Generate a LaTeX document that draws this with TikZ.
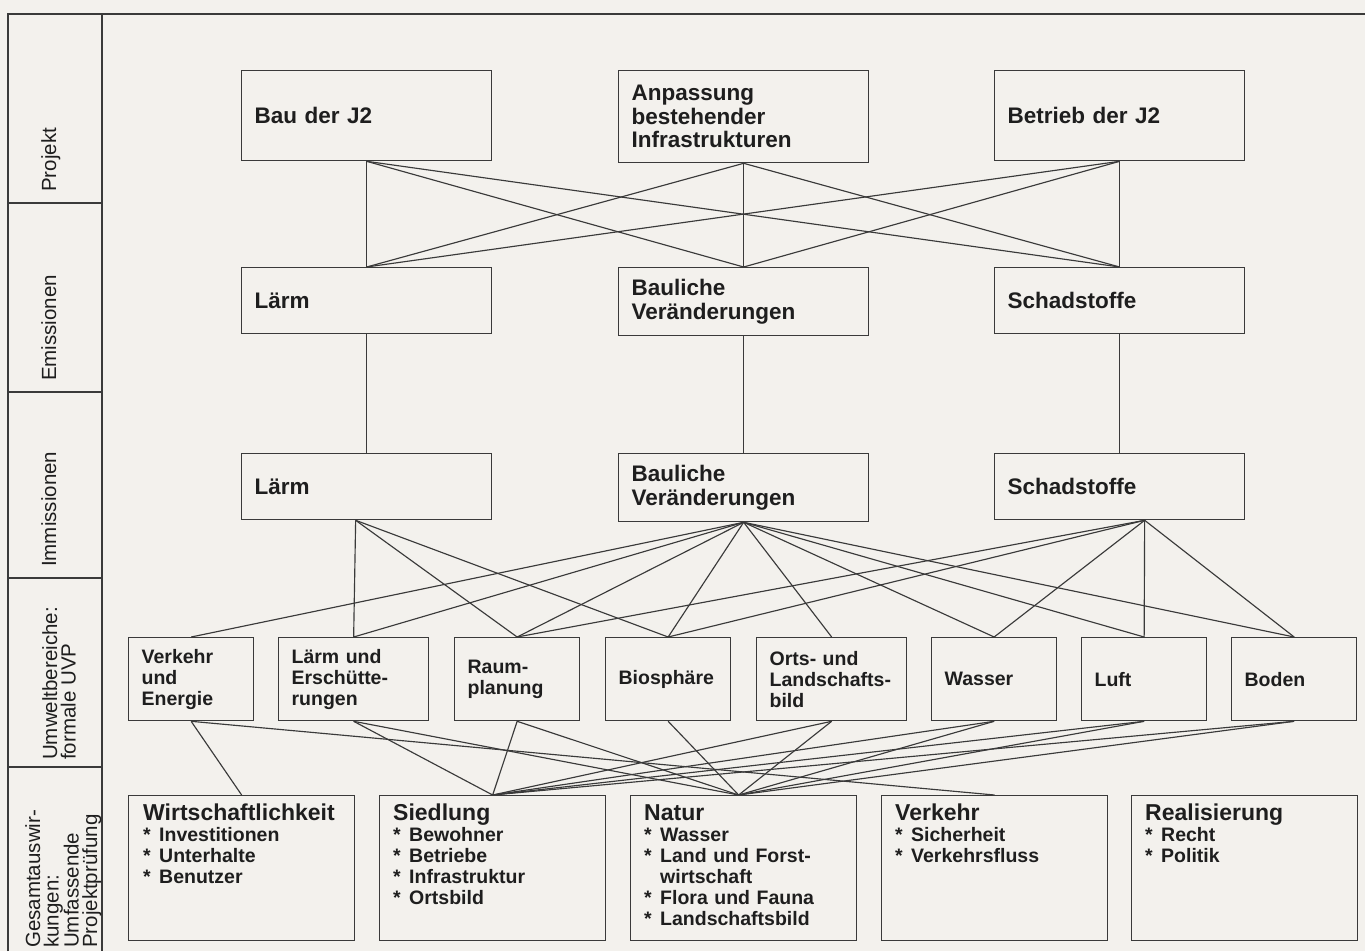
\documentclass[tikz,border=0pt]{standalone}
\usepackage{fontspec}
\setmainfont{Liberation Sans}
\usetikzlibrary{calc}
\definecolor{bgc}{RGB}{243,241,237}
\definecolor{linec}{RGB}{58,58,58}
\definecolor{txt}{RGB}{30,30,30}
\newcommand{\itm}[1]{\makebox[16pt][l]{*}#1}
\newcommand{\ind}[1]{\hspace*{16pt}#1}
\newcommand{\gtitlefont}{\fontsize{23}{24}\selectfont\bfseries}
\begin{document}
\begin{tikzpicture}[x=1pt,y=-1pt,
  box/.style={draw=linec, line width=1.3pt, fill=bgc, inner xsep=13pt, inner ysep=0pt,
    align=left, anchor=north west, text=txt},
  topbox/.style={box, text width=224pt, font=\fontsize{22.5}{23.5}\selectfont\bfseries},
  ubox/.style={box, minimum height=83pt, font=\fontsize{19.5}{21}\selectfont\bfseries},
  gbox/.style={draw=linec, line width=1.3pt, fill=bgc, anchor=north west,
    minimum width=226pt, minimum height=145pt, inner sep=0pt},
  gtext/.style={anchor=north west, inner sep=0pt, align=left, text width=210pt, text=txt,
    font=\fontsize{19.5}{21}\selectfont\bfseries},
  conn/.style={draw=linec, line width=1.15pt},
  frame/.style={draw=linec, line width=1.2pt},
  lab/.style={rotate=90, inner sep=0pt, text=txt, font=\fontsize{20.5}{18.5}\selectfont}
]
\useasboundingbox (0,0) rectangle (1365,951);
\fill[bgc] (0,0) rectangle (1365,951);

% frame
\draw[frame] (8,951) -- (8,14) -- (1365,14);
\draw[frame] (102,14) -- (102,951);
\draw[frame] (8,203) -- (102,203);
\draw[frame] (8,392) -- (102,392);
\draw[frame] (8,578) -- (102,578);
\draw[frame] (8,767) -- (102,767);

% left labels
\node[lab, anchor=base west] (lProj) at (56,192) {Projekt};
\node[lab, anchor=base west] (lEmi) at (56,381) {Emissionen};
\node[lab, anchor=base west] (lImm) at (56,567) {Immissionen};
\node[lab, anchor=north west, align=left] (lUmw) at (42,760) {Umweltbereiche:\\formale UVP};
\node[lab, anchor=north west, align=left] (lGes) at (25,948) {Gesamtauswir-\\kungen:\\Umfassende\\Projektprüfung};

% row 1: Projekt
\node[topbox, minimum height=90pt] (bau) at (241,70) {Bau der J2};
\node[topbox, minimum height=92pt] (anp) at (618,70) {Anpassung\\bestehender\\Infrastrukturen};
\node[topbox, minimum height=90pt] (bet) at (994,70) {Betrieb der J2};

% row 2: Emissionen
\node[topbox, minimum height=66pt] (eL) at (241,267) {Lärm};
\node[topbox, minimum height=68pt] (eB) at (618,267) {Bauliche\\Veränderungen};
\node[topbox, minimum height=66pt] (eS) at (994,267) {Schadstoffe};

% row 3: Immissionen
\node[topbox, minimum height=66pt] (iL) at (241,453) {Lärm};
\node[topbox, minimum height=68pt] (iB) at (618,453) {Bauliche\\Veränderungen};
\node[topbox, minimum height=66pt] (iS) at (994,453) {Schadstoffe};

% row 4: Umweltbereiche
\node[ubox, text width=99pt] (uVerk) at (128,637) {Verkehr\\und\\Energie};
\node[ubox, text width=124pt] (uLaerm) at (278,637) {Lärm und\\Erschütte-\\rungen};
\node[ubox, text width=99pt] (uRaum) at (454,637) {Raum-\\planung};
\node[ubox, text width=99pt] (uBio) at (605,637) {Biosphäre};
\node[ubox, text width=124pt] (uOrts) at (756,637) {Orts- und\\Landschafts-\\bild};
\node[ubox, text width=99pt] (uWasser) at (931,637) {Wasser};
\node[ubox, text width=99pt] (uLuft) at (1081,637) {Luft};
\node[ubox, text width=99pt] (uBoden) at (1231,637) {Boden};

% row 5: Gesamtauswirkungen
\node[gbox] (gWirt) at (128,795) {};
\node[gbox] (gSied) at (379,795) {};
\node[gbox] (gNatur) at (630,795) {};
\node[gbox] (gVerk) at (881,795) {};
\node[gbox] (gReal) at (1131,795) {};
\node[gtext] (tWirt) at ($(gWirt.north west)+(15,9)$) {{\gtitlefont Wirtschaftlichkeit}\\\itm{Investitionen}\\\itm{Unterhalte}\\\itm{Benutzer}};
\node[gtext] (tSied) at ($(gSied.north west)+(14,9)$) {{\gtitlefont Siedlung}\\\itm{Bewohner}\\\itm{Betriebe}\\\itm{Infrastruktur}\\\itm{Ortsbild}};
\node[gtext] (tNatur) at ($(gNatur.north west)+(14,9)$) {{\gtitlefont Natur}\\\itm{Wasser}\\\itm{Land und Forst-}\\\ind{wirtschaft}\\\itm{Flora und Fauna}\\\itm{Landschaftsbild}};
\node[gtext] (tVerk) at ($(gVerk.north west)+(14,9)$) {{\gtitlefont Verkehr}\\\itm{Sicherheit}\\\itm{Verkehrsfluss}};
\node[gtext] (tReal) at ($(gReal.north west)+(14,9)$) {{\gtitlefont Realisierung}\\\itm{Recht}\\\itm{Politik}};

% connection points
\coordinate (iLs) at ($(iL.south)+(-11,0)$);
\coordinate (iSs) at ($(iS.south)+(25,0)$);
\coordinate (gNn) at ($(gNatur.north)+(-5,0)$);

% Projekt -> Emissionen
\foreach \a in {bau,anp,bet}{
  \foreach \b in {eL,eB,eS}{
    \draw[conn] (\a.south) -- (\b.north);
  }
}
% Emissionen -> Immissionen
\draw[conn] (eL.south) -- (iL.north);
\draw[conn] (eB.south) -- (iB.north);
\draw[conn] (eS.south) -- (iS.north);

% Immissionen -> Umweltbereiche
\foreach \b in {uLaerm,uRaum,uBio}{\draw[conn] (iLs) -- (\b.north);}
\foreach \b in {uVerk,uLaerm,uRaum,uBio,uOrts,uWasser,uLuft,uBoden}{\draw[conn] (iB.south) -- (\b.north);}
\foreach \b in {uRaum,uBio,uWasser,uLuft,uBoden}{\draw[conn] (iSs) -- (\b.north);}

% Umweltbereiche -> Gesamtauswirkungen
\draw[conn] (uVerk.south) -- (gWirt.north);
\draw[conn] (uVerk.south) -- (gVerk.north);
\draw[conn] (uBio.south) -- (gNn);
\foreach \a in {uLaerm,uRaum,uOrts,uWasser,uLuft,uBoden}{
  \draw[conn] (\a.south) -- (gSied.north);
  \draw[conn] (\a.south) -- (gNn);
}
\end{tikzpicture}
\end{document}
